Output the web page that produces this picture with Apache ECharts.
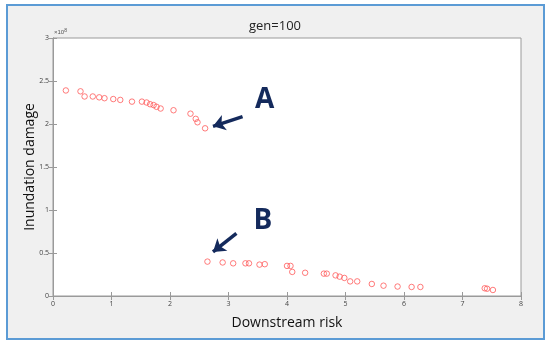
<!DOCTYPE html>
<html><head><meta charset="utf-8">
<script src="https://cdn.jsdelivr.net/npm/echarts@6/dist/echarts.min.js"></script>
<style>
html,body{margin:0;padding:0;background:#fff;}
#frame{position:absolute;left:6px;top:4px;width:535px;height:332px;border:2px solid #5b9bd5;background:#f0f0f0;}
#c{position:absolute;left:0;top:0;width:550px;height:346px;}
</style></head>
<body><div id="frame"></div><div id="c"></div>
<script>
// Downstream risk (x) and inundation damage (y, units of 1e8)
var riskValues = [0.22,0.47,0.54,0.68,0.79,0.88,1.03,1.15,1.35,1.52,1.60,1.66,1.72,1.77,1.84,2.06,2.35,2.44,2.47,2.60,
  2.64,2.90,3.08,3.29,3.35,3.53,3.62,4.00,4.06,4.09,4.31,4.63,4.68,4.83,4.90,4.98,5.08,5.20,5.45,5.65,5.89,6.13,6.28,7.38,7.42,7.52];
var damageValues = [2.39,2.38,2.32,2.32,2.31,2.30,2.29,2.28,2.26,2.26,2.25,2.23,2.22,2.20,2.18,2.16,2.12,2.06,2.02,1.95,
  0.40,0.39,0.38,0.38,0.38,0.365,0.37,0.35,0.35,0.28,0.27,0.26,0.26,0.24,0.225,0.21,0.17,0.17,0.14,0.12,0.11,0.105,0.105,0.09,0.085,0.07];
var xTicks = [0,1,2,3,4,5,6,7,8];
var yTicks = [0,0.5,1,1.5,2,2.5,3];
var annotLabels = ['A','B'];
var arrowStarts = [[3.24,2.086],[3.135,0.729]];
var arrowEnds = [[2.735,1.973],[2.735,0.512]];
var labelPos = [[3.62,2.28],[3.59,0.87]];

var pts = riskValues.map(function(x,i){return [x,damageValues[i]];});
var chart = echarts.init(document.getElementById('c'));
var tickLbl = {fontSize:7,color:'#444',margin:4,fontFamily:'Open Sans'};
var axLine = {lineStyle:{color:'#9a9a9a',width:1}};
var tick = {inside:true,length:4,lineStyle:{color:'#9a9a9a'}};
chart.setOption({
  backgroundColor:'transparent',
  animation:false,
  title:{text:'gen=100',left:'center',top:15,textStyle:{fontSize:13,fontWeight:'normal',color:'#222',fontFamily:'Open Sans'}},
  grid:{left:53,right:29,top:38,bottom:50,show:true,backgroundColor:'#fff',borderColor:'#9a9a9a',borderWidth:1},
  xAxis:[{type:'value',min:xTicks[0],max:xTicks[xTicks.length-1],interval:1,position:'bottom',
    name:'Downstream risk',nameLocation:'middle',nameGap:20,nameMoveOverlap:false,nameTextStyle:{fontSize:14,color:'#111',fontFamily:'Open Sans'},
    axisLine:axLine,axisTick:tick,axisLabel:tickLbl,splitLine:{show:false}},
    {type:'value',min:0,max:8,interval:1,position:'top',axisLine:axLine,axisTick:tick,axisLabel:{show:false},splitLine:{show:false}}],
  yAxis:[{type:'value',min:yTicks[0],max:yTicks[yTicks.length-1],interval:0.5,position:'left',
    name:'Inundation damage',nameLocation:'middle',nameGap:16,nameMoveOverlap:false,nameTextStyle:{fontSize:14,color:'#111',fontFamily:'Open Sans'},
    axisLine:axLine,axisTick:tick,axisLabel:tickLbl,splitLine:{show:false}},
    {type:'value',min:0,max:3,interval:0.5,position:'right',axisLine:axLine,axisTick:tick,axisLabel:{show:false},splitLine:{show:false}}],
  graphic:[{type:'text',left:54,top:28,style:{text:'×10{s|8}',fontSize:6,fill:'#555',rich:{s:{fontSize:5,verticalAlign:'top',padding:[0,0,4,0]}}}}],
  series:[{type:'scatter',data:pts,symbol:'circle',symbolSize:5.5,
    itemStyle:{color:'rgba(255,255,255,0)',borderColor:'#ff5a5a',borderWidth:1},
    markLine:{silent:true,symbol:['none','arrow'],symbolSize:[12,12],
      lineStyle:{color:'#142a5c',width:3.5,type:'solid'},label:{show:false},
      data:arrowStarts.map(function(s,i){return [{coord:s},{coord:arrowEnds[i]}];})},
    markPoint:{silent:true,symbol:'circle',symbolSize:1,itemStyle:{color:'rgba(0,0,0,0)'},
      label:{show:true,position:'inside',fontSize:28,fontWeight:'bold',color:'#142a5c',fontFamily:'Open Sans'},
      data:labelPos.map(function(p,i){return {coord:p,value:annotLabels[i],label:{formatter:annotLabels[i]}};})}
  }]
});
</script></body></html>
